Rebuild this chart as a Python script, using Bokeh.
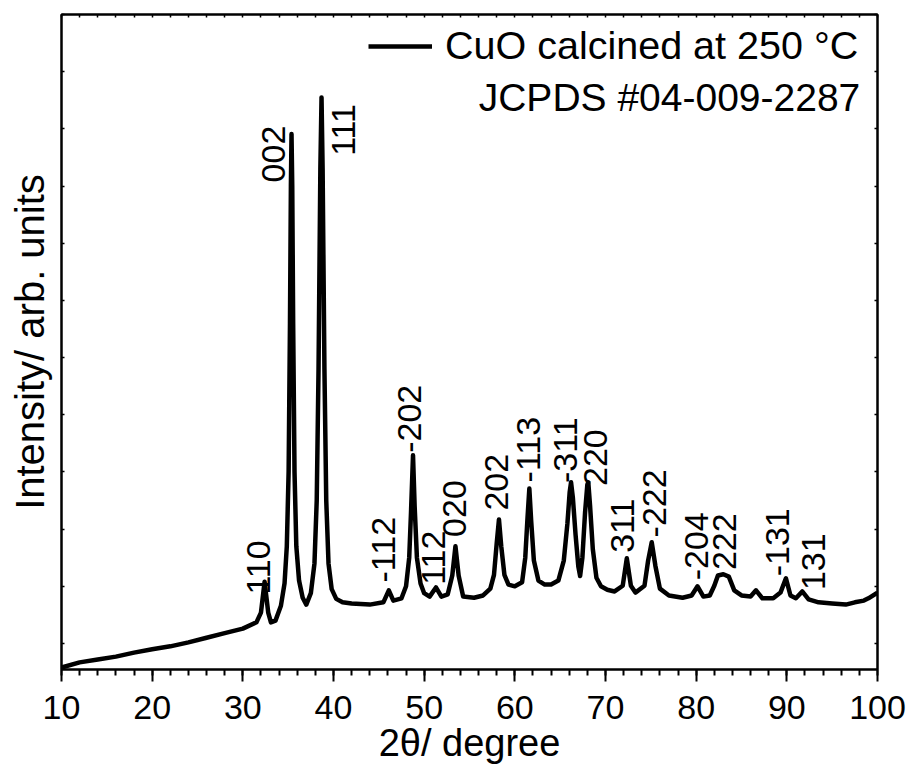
import math
from bokeh.plotting import figure
from bokeh.models import (Range1d, LinearAxis, SingleIntervalTicker,
                          CustomJSTickFormatter, Legend, LegendItem, Label, ColumnDataSource)
from bokeh.core.properties import value
from bokeh.embed import file_html
from bokeh.resources import INLINE

FONT = "Liberation Sans"

# ---- data ----
two_theta = [10.0, 12, 14, 16, 18, 20, 22, 24, 26, 28, 30, 31.5, 32.0, 32.4, 32.8, 33.1, 33.6,
             34.2, 34.6, 34.85, 35.05, 35.2, 35.3, 35.37, 35.45, 35.55, 35.7, 35.9, 36.2, 36.6,
             37.0, 37.5, 37.9, 38.15, 38.35, 38.55, 38.68, 38.8, 39.0, 39.2, 39.45, 39.8, 40.3,
             41.0, 42, 44, 45.5, 46.1, 46.6, 47.5, 48.0, 48.35, 48.55, 48.77, 48.95, 49.2,
             49.6, 50.0, 50.6, 51.3, 51.9, 52.6, 53.1, 53.45, 53.8, 54.3,
             55.5, 56.5, 57.3, 57.7, 58.0, 58.25, 58.5, 58.85, 59.3, 60.0, 60.8, 61.15, 61.4,
             61.6, 61.8, 62.1, 62.6, 63.3, 64.0, 64.8, 65.4, 65.8, 66.05, 66.2, 66.4, 66.7,
             67.0, 67.2, 67.45, 67.75, 68.0, 68.1, 68.3, 68.6, 69.0, 69.5, 70.2, 71.0,
             71.9, 72.35, 72.8, 73.3, 74.3, 74.7, 75.1, 75.5, 76.0, 77.0, 78.5, 79.5, 80.15,
             80.8, 81.5, 82.0, 82.4, 83.0, 83.6, 84.2, 85.0, 86.0, 86.6, 87.3, 88.5, 89.3,
             89.9, 90.4, 91.0, 91.7, 92.4, 93.5, 95.0, 96.5, 97.5, 98.5, 99.0, 100.0]
intensity = [-42, -33, -28, -23, -16, -10, -5, 2, 10, 18, 26, 37, 54, 108, 54, 37, 40,
             66, 105, 170, 300, 560, 800, 891, 800, 560, 300, 170, 110, 80,
             68, 88, 140, 250, 480, 830, 955, 830, 480, 250, 140, 95, 78,
             72, 70, 68, 72, 93, 75, 79, 100, 150, 230, 329, 240, 150,
             105, 88, 82, 98, 82, 86, 119, 170, 119, 82,
             80, 84, 96, 120, 175, 217, 170, 120, 103, 100, 107, 150, 220,
             271, 215, 145, 110, 103, 103, 110, 145, 210, 265, 282, 255, 190,
             135, 118, 150, 230, 278, 282, 240, 165, 115, 100, 94, 91,
             101, 149, 101, 89, 101, 145, 177, 136, 96, 84, 80, 84, 100,
             82, 84, 101, 119, 121, 117, 93, 84, 82, 93, 79, 79, 89,
             114, 84, 79, 91, 77, 72, 70, 68, 72, 75, 79, 89]

hkl_labels = ["110", "002", "111", "-112", "-202", "112", "020", "202", "-113",
              "-311", "220", "311", "-222", "-204", "222", "-131", "131"]
hkl_x = [31.73, 33.38, 41.10, 45.46, 48.40, 51.03, 53.34, 57.98, 61.56,
         65.59, 68.90, 71.93, 75.40, 80.03, 83.12, 89.02, 92.94]
hkl_y = [133, 856, 898, 164, 393, 150, 236, 282, 339,
         338, 325, 206, 245, 170, 178, 177, 143]

series_name = "CuO calcined at 250 °C"
reference_note = "JCPDS #04-009-2287"
x_title = "2θ/ degree"
y_title = "Intensity/ arb. units"

# ---- figure ----
p = figure(width=911, height=776, x_range=Range1d(10, 100), y_range=Range1d(-45.5, 1100),
           output_backend="svg", toolbar_location=None,
           min_border_left=61, min_border_right=34, min_border_top=14, min_border_bottom=107)
p.background_fill_color = "white"
p.border_fill_color = "white"
p.outline_line_color = "black"
p.outline_line_width = 2
p.xgrid.visible = False
p.ygrid.visible = False

blank = CustomJSTickFormatter(code="return ''")

# bottom axis
xa = p.xaxis[0]
xa.ticker = SingleIntervalTicker(interval=10, num_minor_ticks=5)
xa.major_tick_out = 12
xa.major_tick_in = 0
xa.minor_tick_out = 6
xa.minor_tick_in = 0
xa.axis_line_width = 2
xa.major_tick_line_width = 2
xa.minor_tick_line_width = 2
xa.major_label_text_font = FONT
xa.major_label_text_font_size = "34px"
xa.major_label_text_color = "black"
xa.major_label_standoff = 14
xa.axis_label = x_title
xa.axis_label_text_font = FONT
xa.axis_label_text_font_size = "38px"
xa.axis_label_text_font_style = "normal"
xa.axis_label_text_color = "black"
xa.axis_label_standoff = 0

# left axis
ya = p.yaxis[0]
ya.ticker = SingleIntervalTicker(interval=100, num_minor_ticks=0)
ya.formatter = blank
ya.major_tick_in = 3
ya.major_tick_out = 0
ya.minor_tick_in = 0
ya.minor_tick_out = 0
ya.axis_line_width = 2
ya.major_tick_line_width = 1.5
ya.major_label_standoff = 0
ya.axis_label = y_title
ya.axis_label_text_font = FONT
ya.axis_label_text_font_size = "40px"
ya.axis_label_text_font_style = "normal"
ya.axis_label_text_color = "black"
ya.axis_label_standoff = 10

# top axis
ta = LinearAxis(ticker=SingleIntervalTicker(interval=2, num_minor_ticks=0), formatter=blank,
                major_tick_in=3, major_tick_out=0, minor_tick_in=0, minor_tick_out=0,
                axis_line_width=2, major_tick_line_width=1.5, major_label_standoff=0)
p.add_layout(ta, "above")
# right axis
ra = LinearAxis(ticker=SingleIntervalTicker(interval=100, num_minor_ticks=0), formatter=blank,
                major_tick_in=3, major_tick_out=0, minor_tick_in=0, minor_tick_out=0,
                axis_line_width=2, major_tick_line_width=1.5, major_label_standoff=0)
p.add_layout(ra, "right")

# data line
src = ColumnDataSource(dict(x=two_theta, y=intensity))
r = p.line("x", "y", source=src, line_color="black", line_width=4.5, line_join="round")

# hkl labels
lsrc = ColumnDataSource(dict(x=hkl_x, y=hkl_y, t=hkl_labels))
p.text("x", "y", text="t", source=lsrc, angle=math.pi / 2, text_align="center",
       text_baseline="middle", text_font=value(FONT), text_font_size="34px", text_color="black")

# legend
leg = Legend(items=[LegendItem(label=series_name, renderers=[r])], location=(307, 601),
             glyph_width=64, glyph_height=30, label_standoff=13, padding=0, margin=0,
             spacing=0, border_line_alpha=0, background_fill_alpha=0,
             label_text_font=FONT, label_text_font_size="39.5px", label_text_color="black")
p.add_layout(leg, "center")

p.add_layout(Label(x=98.1, y=(643 - 97) * 1.75, text=reference_note, text_align="right",
                   text_baseline="middle", text_font=FONT, text_font_size="39px",
                   text_color="black"))

open("out.html", "w").write(file_html(p, INLINE))
